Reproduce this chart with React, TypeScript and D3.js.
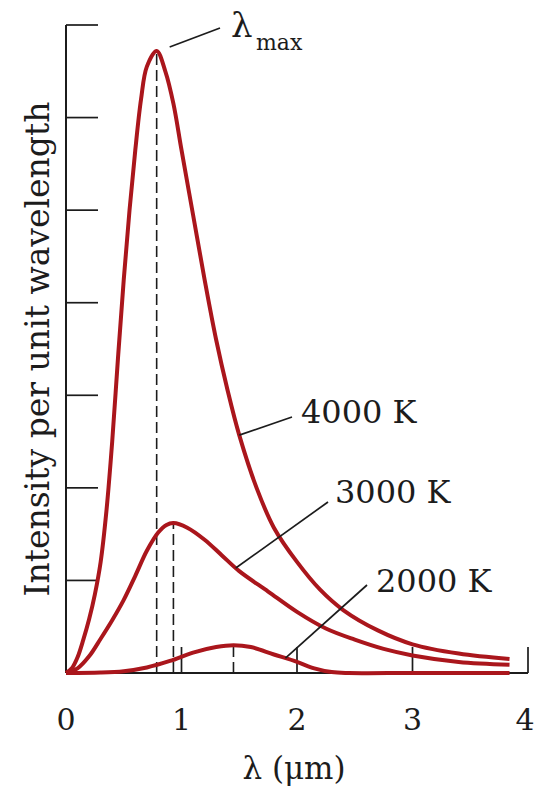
import * as d3 from "d3";

// wavelength (μm) and intensity (in tick units)
const lambda4000 = [0, 0.05, 0.1, 0.15, 0.2, 0.25, 0.3, 0.35, 0.4, 0.45, 0.5, 0.55, 0.6, 0.65, 0.7, 0.785, 0.86, 0.93, 1.0, 1.1, 1.2, 1.3, 1.4, 1.5, 1.65, 1.8, 2.0, 2.2, 2.4, 2.7, 3.0, 3.4, 3.84];
const value4000 = [0, 0.05, 0.17, 0.36, 0.58, 0.85, 1.2, 1.75, 2.5, 3.4, 4.25, 5.0, 5.65, 6.2, 6.55, 6.72, 6.5, 6.15, 5.65, 4.95, 4.25, 3.6, 3.05, 2.57, 2.0, 1.57, 1.2, 0.9, 0.68, 0.46, 0.31, 0.21, 0.15];

const lambda3000 = [0, 0.1, 0.2, 0.3, 0.4, 0.5, 0.6, 0.7, 0.8, 0.87, 0.93, 1.05, 1.2, 1.35, 1.5, 1.75, 2.0, 2.25, 2.5, 2.75, 3.0, 3.4, 3.84];
const value3000 = [0, 0.05, 0.18, 0.37, 0.57, 0.79, 1.05, 1.32, 1.52, 1.6, 1.62, 1.57, 1.44, 1.27, 1.1, 0.88, 0.66, 0.48, 0.36, 0.26, 0.19, 0.12, 0.09];

const lambda2000 = [0, 0.3, 0.5, 0.7, 0.9, 1.1, 1.3, 1.45, 1.6, 1.8, 2.0, 2.15, 2.3, 2.45, 3.0, 3.84];
const value2000 = [0, 0.005, 0.02, 0.06, 0.13, 0.22, 0.28, 0.3, 0.28, 0.2, 0.12, 0.05, 0.01, 0, 0, 0];

const peakLambda = [0.785, 0.93, 1.45];
const peakValue = [6.72, 1.62, 0.3];

const xTicks = [0, 1, 2, 3, 4];
const yTicks = [1, 2, 3, 4, 5, 6, 7];

const curveLabels = ["4000 K", "3000 K", "2000 K"];
const labelAt = [1.5, 1.47, 1.9]; // λ where each leader line touches its curve

const width = 536;
const height = 787;
const red = "#aa161c";
const ink = "#1c1c1c";
const serif = "'DejaVu Serif', serif";

export default function App() {
    const x = d3.scaleLinear().domain([0, 4]).range([66, 528]);
    const y = d3.scaleLinear().domain([0, 7]).range([673, 25]);

    const line = d3.line<[number, number]>()
        .x(d => x(d[0]))
        .y(d => y(Math.max(0, d[1])))
        .curve(d3.curveCatmullRom.alpha(0.5));

    const series = [
        lambda4000.map((l, i) => [l, value4000[i]] as [number, number]),
        lambda3000.map((l, i) => [l, value3000[i]] as [number, number]),
        lambda2000.map((l, i) => [l, value2000[i]] as [number, number]),
    ];

    const valueOn = (s: [number, number][], l: number) => {
        const i = d3.bisector((d: [number, number]) => d[0]).left(s, l);
        const a = s[Math.max(0, i - 1)], b = s[i];
        const t = (l - a[0]) / (b[0] - a[0] || 1);
        return a[1] + t * (b[1] - a[1]);
    };
    // leader line ends and text spots for the curve labels
    const labelEnds = [
        { tx: 292, ty: 417, lx: 301, ly: 423 },
        { tx: 328, ty: 502, lx: 335, ly: 503 },
        { tx: 367, ty: 585, lx: 376, ly: 592 },
    ];

    return (
        <svg width={width} height={height} style={{ position: "absolute", left: 0, top: 0, background: "#fff" }}>
            {/* y axis */}
            <line x1={x(0)} x2={x(0)} y1={y(0)} y2={y(7)} stroke={ink} strokeWidth={2} />
            {yTicks.map(t => (
                <line key={t} x1={x(0)} x2={x(0) + 32} y1={y(t)} y2={y(t)} stroke={ink} strokeWidth={1.7} />
            ))}
            {/* x axis */}
            <line x1={x(0)} x2={x(4)} y1={y(0)} y2={y(0)} stroke={ink} strokeWidth={2} />
            {xTicks.slice(1).map(t => (
                <line key={t} x1={x(t)} x2={x(t)} y1={y(0)} y2={y(0) - 26} stroke={ink} strokeWidth={1.7} />
            ))}
            {xTicks.map(t => (
                <text key={t} x={Math.min(x(t), width - 11)} y={730} textAnchor="middle" fontFamily={serif} fontSize={30} fill={ink}>{t}</text>
            ))}
            <text x={294} y={779} textAnchor="middle" fontFamily={serif} fontSize={31} fill={ink}>λ (μm)</text>
            <text transform="translate(49,349) rotate(-90)" textAnchor="middle" fontFamily={serif} fontSize={33} fill={ink}>
                Intensity per unit wavelength
            </text>

            {/* dashed lines under each peak */}
            {peakLambda.map((l, i) => (
                <line key={l} x1={x(l)} x2={x(l)} y1={y(0)} y2={y(peakValue[i])}
                    stroke={ink} strokeWidth={1.6} strokeDasharray="11 5" />
            ))}

            {series.map((s, i) => (
                <path key={i} d={line(s) ?? ""} fill="none" stroke={red} strokeWidth={4} strokeLinejoin="round" />
            ))}

            {/* curve labels with leader lines */}
            {curveLabels.map((c, i) => {
                const l = labelAt[i];
                const e = labelEnds[i];
                return (
                    <g key={c}>
                        <line x1={x(l)} y1={y(valueOn(series[i], l))} x2={e.tx} y2={e.ty} stroke={ink} strokeWidth={1.7} />
                        <text x={e.lx} y={e.ly} fontFamily={serif} fontSize={32} fill={ink}>{c}</text>
                    </g>
                );
            })}

            {/* λmax */}
            <line x1={x(peakLambda[0]) + 13} y1={47} x2={220} y2={28} stroke={ink} strokeWidth={1.7} />
            <text x={231} y={37} fontFamily={serif} fontSize={34} fill={ink}>λ</text>
            <text x={256} y={50} fontFamily={serif} fontSize={22} fill={ink}>max</text>
        </svg>
    );
}
